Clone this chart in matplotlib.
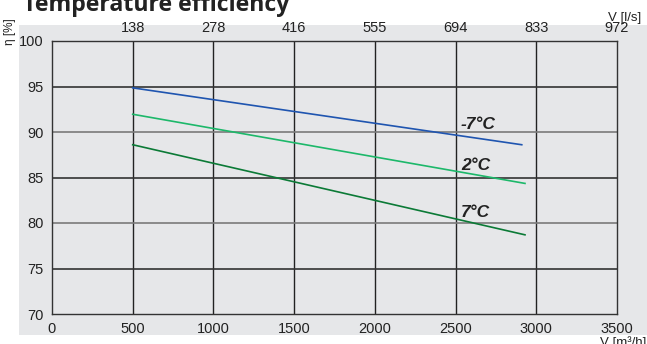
import matplotlib
matplotlib.use("Agg")
import matplotlib.pyplot as plt
from matplotlib.patches import Rectangle

# Data
flow_m3h = [500, 2910]
eff_m7 = [94.85, 88.6]
flow_2 = [500, 2930]
eff_2 = [91.95, 84.35]
flow_7 = [500, 2930]
eff_7 = [88.6, 78.7]
series_labels = ["-7°C", "2°C", "7°C"]
label_pos = [(2528, 90.35), (2535, 85.85), (2535, 80.65)]
x_ticks = [0, 500, 1000, 1500, 2000, 2500, 3000, 3500]
top_tick_labels = ["138", "278", "416", "555", "694", "833", "972"]
y_ticks = [70, 75, 80, 85, 90, 95, 100]

W, H = 647, 344
fig = plt.figure(figsize=(W / 100, H / 100), dpi=100)
fig.patch.set_facecolor("white")
bg = "#e6e7e9"
fig.patches.append(Rectangle((19 / W, 1 - 335 / H), (W - 19) / W, (335 - 25) / H,
                             transform=fig.transFigure, facecolor=bg, edgecolor="none", zorder=-10))

ax = fig.add_axes([52 / W, 1 - 314 / H, 565 / W, 273 / H])
ax.set_facecolor(bg)
ax.set_xlim(0, 3500)
ax.set_ylim(70, 100)
ax.set_xticks(x_ticks)
ax.set_yticks(y_ticks)
ax.tick_params(length=0, labelsize=10.5, pad=6)
for lab in ax.get_xticklabels() + ax.get_yticklabels():
    lab.set_fontfamily("Liberation Sans")
    lab.set_color("#222222")

for s in ax.spines.values():
    s.set_color("#333333")
    s.set_linewidth(1.0)

for xv in x_ticks[1:-1]:
    ax.axvline(xv, color="#222222", lw=1.0, zorder=1)
for yv in y_ticks[1:-1]:
    c = "#333333" if yv in (95, 85, 75) else "#7a7a7a"
    ax.axhline(yv, color=c, lw=1.2, zorder=1)

ax.plot(flow_m3h, eff_m7, color="#1f55b0", lw=1.2, zorder=3)
ax.plot(flow_2, eff_2, color="#1db86a", lw=1.2, zorder=3)
ax.plot(flow_7, eff_7, color="#0b7a36", lw=1.2, zorder=3)

for lab, (lx, ly) in zip(series_labels, label_pos):
    ax.text(lx, ly, lab, fontsize=12.5, fontweight="bold", fontstyle="italic",
            family="Liberation Sans", color="#222222", ha="left", va="baseline", zorder=4)

ax2 = ax.twiny()
ax2.set_xlim(ax.get_xlim())
ax2.set_xticks(x_ticks[1:])
ax2.set_xticklabels(top_tick_labels)
ax2.tick_params(length=0, labelsize=10.5, pad=4)
for lab in ax2.get_xticklabels():
    lab.set_fontfamily("Liberation Sans")
    lab.set_color("#222222")
for s in ax2.spines.values():
    s.set_visible(False)

fig.text(23 / W, 1 - 11 / H, "Temperature efficiency", fontsize=16.7, fontweight="bold",
         family="Open Sans", color="#222222", ha="left", va="baseline")
fig.text(641 / W, 1 - 21 / H, "V [l/s]", fontsize=9.5, family="Liberation Sans",
         color="#222222", ha="right", va="baseline")
fig.text(646 / W, 1 - 346 / H, "V [m³/h]", fontsize=9.5, family="Liberation Sans",
         color="#222222", ha="right", va="baseline")
fig.text(10 / W, 1 - 32 / H, "η [%]", fontsize=8.5, family="Liberation Sans",
         color="#222222", ha="center", va="center", rotation=90)

fig.savefig("out.png", dpi=100, facecolor="white")
